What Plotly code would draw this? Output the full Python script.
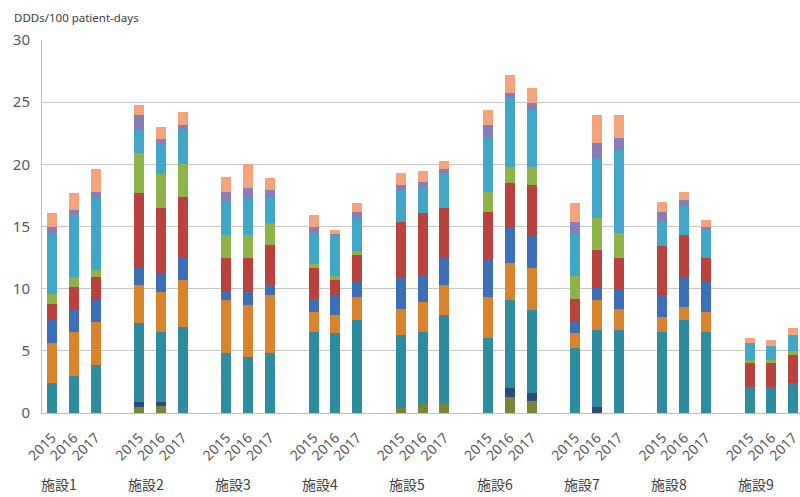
import plotly.graph_objects as go

# Facilities and fiscal years
facilities = ["施設1", "施設2", "施設3", "施設4", "施設5", "施設6", "施設7", "施設8", "施設9"]
years = ["2015", "2016", "2017"]

# Stacked components (DDDs/100 patient-days), 27 bars ordered facility by facility, 2015-2017
olive = [0, 0, 0,  0.5, 0.6, 0,  0, 0, 0,  0, 0, 0,  0.4, 0.7, 0.8,  0, 1.3, 1.0,  0, 0, 0,  0, 0, 0,  0, 0, 0]
navy = [0, 0, 0,  0.4, 0.3, 0,  0, 0, 0,  0, 0, 0,  0, 0, 0,  0, 0.7, 0.6,  0, 0.5, 0,  0, 0, 0,  0, 0, 0]
teal = [2.4, 3.0, 3.9,  6.3, 5.6, 6.9,  4.8, 4.5, 4.8,  6.5, 6.4, 7.5,  5.9, 5.8, 7.1,  6.0, 7.1, 6.7,
        5.2, 6.2, 6.7,  6.5, 7.5, 6.5,  2.1, 2.1, 2.4]
orange = [3.2, 3.5, 3.4,  3.1, 3.2, 3.8,  4.3, 4.2, 4.7,  1.6, 1.5, 1.8,  2.1, 2.4, 2.4,  3.3, 3.0, 3.4,
          1.2, 2.4, 1.7,  1.2, 1.0, 1.6,  0, 0, 0]
blue = [2.0, 1.9, 1.8,  1.4, 1.5, 1.8,  0.6, 1.0, 0.8,  1.1, 1.6, 1.2,  2.5, 2.2, 2.2,  3.0, 2.8, 2.6,
        0.9, 1.0, 1.5,  1.8, 2.4, 2.4,  0, 0, 0]
red = [1.2, 1.7, 1.8,  6.0, 5.3, 4.9,  2.8, 2.8, 3.2,  2.5, 1.2, 2.2,  4.5, 5.0, 4.0,  3.9, 3.6, 4.0,
       1.9, 3.0, 2.6,  3.9, 3.4, 2.0,  1.9, 1.9, 2.3]
green = [0.8, 0.8, 0.6,  3.2, 2.7, 2.6,  1.8, 1.8, 1.8,  0.3, 0.3, 0.3,  0, 0, 0,  1.6, 1.3, 1.5,
         1.8, 2.6, 2.0,  0, 0, 0,  0.3, 0.3, 0.3]
aqua = [4.9, 5.0, 5.8,  1.9, 2.5, 2.8,  2.7, 3.0, 2.0,  2.5, 3.2, 2.8,  2.5, 2.1, 2.8,  4.3, 5.6, 4.6,
        3.5, 4.8, 6.7,  2.0, 2.4, 2.2,  1.3, 1.1, 1.3]
purple = [0.5, 0.4, 0.5,  1.2, 0.3, 0.4,  0.8, 0.8, 0.6,  0.5, 0.2, 0.4,  0.4, 0.4, 0.3,  1.1, 0.3, 0.5,
          0.9, 1.2, 0.9,  0.8, 0.4, 0.3,  0, 0, 0]
salmon = [1.1, 1.4, 1.8,  0.8, 1.0, 1.0,  1.2, 1.9, 1.0,  0.9, 0.3, 0.7,  1.0, 0.9, 0.7,  1.2, 1.5, 1.2,
          1.5, 2.3, 1.9,  0.8, 0.7, 0.5,  0.4, 0.5, 0.5]

series = [
    ("系列1", olive, "#76873a"),
    ("系列2", navy, "#2c4a7c"),
    ("系列3", teal, "#2f8c9f"),
    ("系列4", orange, "#d8842f"),
    ("系列5", blue, "#3d6fb6"),
    ("系列6", red, "#b9423f"),
    ("系列7", green, "#8fb348"),
    ("系列8", aqua, "#42a6c6"),
    ("系列9", purple, "#8a7cb5"),
    ("系列10", salmon, "#f3a47c"),
]

# Each facility occupies 4 slots: three yearly bars and one blank gap
xpos = [4 * i + j for i in range(len(facilities)) for j in range(len(years))]
xlabels = [y for _ in facilities for y in years]

fig = go.Figure()
for name, vals, color in series:
    fig.add_trace(go.Bar(
        x=xpos, y=vals, name=name, width=0.46,
        marker=dict(color=color, line=dict(width=0)),
    ))

for i, f in enumerate(facilities):
    fig.add_annotation(
        x=4 * i + 0.3, y=-0.19, xref="x", yref="paper",
        text=f, showarrow=False, xanchor="center", yanchor="middle",
        font=dict(family="Noto Sans CJK JP", size=14, color="#404040"),
    )

fig.add_annotation(
    x=-0.0396, y=1.059, xref="paper", yref="paper",
    text="DDDs/100 patient-days", showarrow=False, xanchor="left", yanchor="middle",
    font=dict(family="Noto Sans", size=11.5, color="#404040"),
)

fig.update_layout(
    width=800, height=497,
    barmode="stack",
    showlegend=False,
    paper_bgcolor="white", plot_bgcolor="white",
    margin=dict(l=42, r=0, t=40, b=84),
    font=dict(family="Noto Sans", color="#595959"),
    xaxis=dict(
        range=[-0.46, 34.31],
        tickmode="array", tickvals=xpos, ticktext=xlabels,
        tickangle=-45, tickfont=dict(size=14, color="#595959"),
        ticklabeloverflow="allow", ticklabelstandoff=10,
        showgrid=False, zeroline=False,
        showline=True, linecolor="#bfbfbf", linewidth=1,
        ticks="",
    ),
    yaxis=dict(
        range=[0, 30], tickvals=[0, 5, 10, 15, 20, 25, 30],
        tickfont=dict(size=15, color="#595959"),
        showgrid=True, gridcolor="#c8c8c8", gridwidth=1,
        zeroline=False,
        showline=True, linecolor="#bfbfbf", linewidth=1,
        ticks="", ticklabelstandoff=8,
    ),
)

fig.write_html("out.html")
